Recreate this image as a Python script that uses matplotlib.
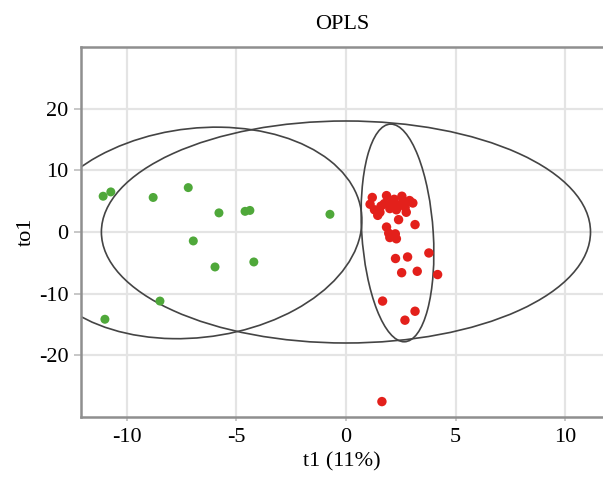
import matplotlib
matplotlib.use("Agg")
import matplotlib.pyplot as plt
from matplotlib.patches import Ellipse

plt.rcParams['font.family'] = ['Liberation Serif', 'DejaVu Serif']
plt.rcParams['axes.unicode_minus'] = False

# Green group scores (t1, to1)
green_t1 = [-11.07, -10.72, -8.79, -7.19, -5.79, -4.60, -4.38, -6.96, -5.97, -4.20, -8.48, -10.99, -0.73]
green_to1 = [5.8, 6.5, 5.6, 7.2, 3.1, 3.35, 3.5, -1.45, -5.67, -4.86, -11.2, -14.15, 2.87]

# Red group scores (t1, to1)
red_t1 = [1.20, 1.10, 1.30, 1.45, 1.55, 1.85, 1.75, 2.05, 2.00, 2.20, 2.55, 2.40, 2.70, 2.90,
          3.05, 2.75, 2.40, 3.15, 1.85, 1.95, 2.25, 2.00, 2.30, 2.60, 1.60, 2.30,
          2.26, 2.81, 3.78, 2.54, 3.25, 4.18, 1.67, 3.15, 2.69, 1.64]
red_to1 = [5.6, 4.5, 3.6, 2.7, 3.2, 5.9, 4.6, 4.7, 3.8, 5.3, 5.8, 4.3, 4.0, 5.1,
           4.7, 3.2, 2.0, 1.2, 0.8, -0.2, -0.3, -0.9, -1.1, 5.0, 4.2, 3.6,
           -4.3, -4.05, -3.4, -6.6, -6.37, -6.9, -11.2, -12.85, -14.3, -27.5]

# Confidence ellipses: (center_x, center_y, width, height, angle)
ellipse_all = (0.0, 0.0, 22.3, 36.0, 0.0)
ellipse_green = (-6.8, -0.15, 14.92, 34.36, -3.7)
ellipse_red = (2.35, -0.15, 3.26, 35.3, 1.0)

x_ticks = [-10, -5, 0, 5, 10]
y_ticks = [20, 10, 0, -10, -20]

fig = plt.figure(figsize=(6.03, 4.82), dpi=100)
ax = fig.add_axes([81/603, 1 - 417/482, (603 - 81)/603, (417 - 47)/482])

ax.set_xlim(-12.08, 11.72)
ax.set_ylim(-30, 30)
ax.set_xticks(x_ticks)
ax.set_yticks(y_ticks)

ax.grid(True, color='#e4e4e4', linewidth=1.6, zorder=0)
ax.axhline(0, color='#3a3a3a', linewidth=1.1, zorder=1)
ax.axvline(0, color='#3a3a3a', linewidth=1.1, zorder=1)

for (cx, cy, w, h, ang) in (ellipse_all, ellipse_green, ellipse_red):
    ax.add_patch(Ellipse((cx, cy), w, h, angle=ang, fill=False,
                         edgecolor='#444444', linewidth=1.2, zorder=2))

ax.scatter(green_t1, green_to1, s=42, color='#4fa83a', edgecolors='none', zorder=3)
ax.scatter(red_t1, red_to1, s=46, color='#e3201b', edgecolors='none', zorder=3)

for side in ('left', 'bottom', 'top'):
    ax.spines[side].set_color('#8f8f8f')
    ax.spines[side].set_linewidth(1.8)
ax.spines['right'].set_visible(False)

ax.tick_params(axis='y', length=5, width=1.2, color='#bdbdbd', pad=4, labelsize=16)
ax.tick_params(axis='x', length=3, width=1.2, color='#bdbdbd', pad=5, labelsize=16)

ax.set_title('OPLS', fontsize=16, pad=13)
ax.set_xlabel('t1 (11%)', fontsize=16, labelpad=4)
ax.set_ylabel('to1', fontsize=16, labelpad=2)

fig.savefig('out.png', dpi=100)
